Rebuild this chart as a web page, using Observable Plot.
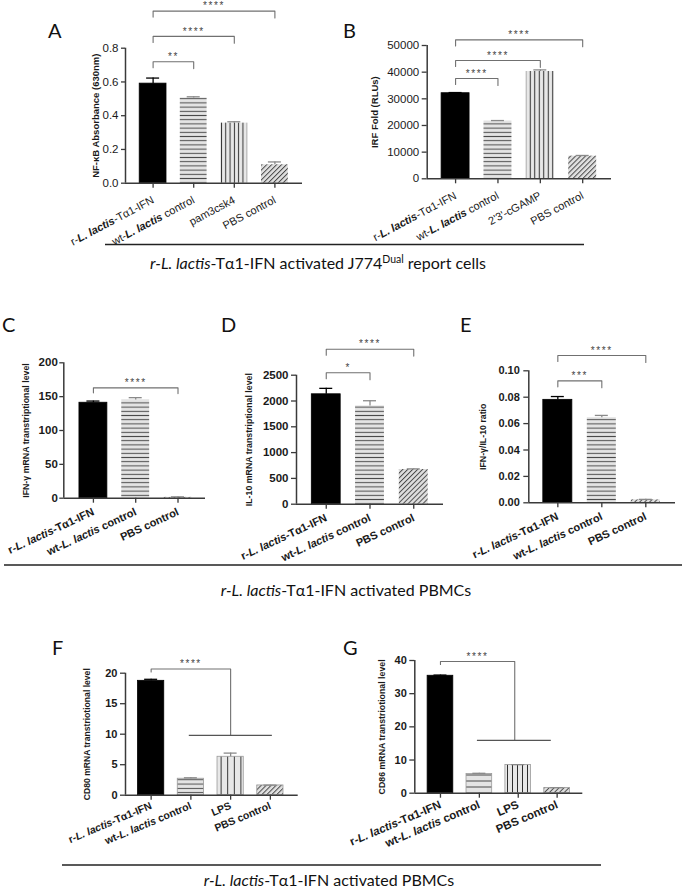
<!DOCTYPE html>
<html><head><meta charset="utf-8">
<script src="https://cdn.jsdelivr.net/npm/d3@7"></script>
<script src="https://cdn.jsdelivr.net/npm/@observablehq/plot@0.6"></script>
<style>
html,body{margin:0;padding:0;background:#fff;}
#fig{position:relative;width:685px;height:888px;overflow:hidden;background:#fff;}
#fig svg{position:absolute;overflow:visible;}
#fig svg.boldY g[aria-label^="y-axis"] text{font-weight:bold;}
</style></head>
<body><div id="fig"></div>
<script>
// ---------------- data ----------------
const catsA = ["r-L. lactis-Tα1-IFN", "wt-L. lactis control", "pam3csk4", "PBS control"];
const meanA = [0.59, 0.505, 0.356, 0.109];
const errA  = [0.033, 0.007, 0.008, 0.017];
const ticksA = [0, 0.2, 0.4, 0.6, 0.8];
const sigA = [[0, 1, 0.72, "**"], [0, 2, 0.87, "****"], [0, 3, 1.02, "****"]];

const catsB = ["r-L. lactis-Tα1-IFN", "wt-L. lactis control", "2'3'-cGAMP", "PBS control"];
const meanB = [32100, 21600, 40250, 8500];
const errB  = [250, 250, 600, 250];
const ticksB = [0, 10000, 20000, 30000, 40000, 50000];
const sigB = [[0, 1, 37600, "****"], [0, 2, 44400, "****"], [0, 3, 52100, "****"]];

const catsC = ["r-L. lactis-Tα1-IFN", "wt-L. lactis control", "PBS control"];
const meanC = [141, 145, 1.2];
const errC  = [2.5, 3.5, 0.8];
const ticksC = [0, 50, 100, 150, 200];
const sigC = [[0, 2, 163, "****"]];

const catsD = ["r-L. lactis-Tα1-IFN", "wt-L. lactis control", "PBS control"];
const meanD = [2130, 1905, 672];
const errD  = [115, 100, 13];
const ticksD = [0, 500, 1000, 1500, 2000, 2500];
const sigD = [[0, 1, 2547, "*"], [0, 2, 3004, "****"]];

const catsE = ["r-L. lactis-Tα1-IFN", "wt-L. lactis control", "PBS control"];
const meanE = [0.078, 0.0645, 0.0022];
const errE  = [0.0025, 0.0017, 0.0004];
const ticksE = [0, 0.02, 0.04, 0.06, 0.08, 0.10];
const sigE = [[0, 1, 0.0924, "***"], [0, 2, 0.1116, "****"]];

const catsF = ["r-L. lactis-Tα1-IFN", "wt-L. lactis control", "LPS", "PBS control"];
const meanF = [18.75, 2.7, 6.3, 1.6];
const errF  = [0.25, 0.15, 0.6, 0.05];
const ticksF = [0, 5, 10, 15, 20];
const groupF = {from: 0, join: 2, top: 20.7, low: 9.8, span: [0.96, 3.05], label: "****"};

const catsG = ["r-L. lactis-Tα1-IFN", "wt-L. lactis control", "LPS", "PBS control"];
const meanG = [35.4, 5.8, 8.5, 1.6];
const errG  = [0.2, 0.2, 0.1, 0.05];
const ticksG = [0, 10, 20, 30, 40];
const groupG = {from: 0, join: 1.91, top: 39.7, low: 15.9, span: [0.95, 2.85], label: "****"};

// ---------------- styles ----------------
const SANS = "'Liberation Sans', Arial, Helvetica, sans-serif";
const CAL = "Lato, 'Open Sans', 'Liberation Sans', sans-serif";
const AX = "#3a3a3a";
const fig = document.getElementById("fig");

function defs(id, hGap, vGap, dGap) {
  return `<defs>
  <pattern id="${id}-h" width="6" height="${hGap}" patternUnits="userSpaceOnUse">
    <rect width="6" height="${hGap}" fill="#e4e4e4"/>
    <line x1="0" x2="6" y1="${hGap/2}" y2="${hGap/2}" stroke="#4a4a4a" stroke-width="1"/></pattern>
  <pattern id="${id}-v" width="${vGap}" height="6" patternUnits="userSpaceOnUse">
    <rect width="${vGap}" height="6" fill="#e8e8e8"/>
    <line y1="0" y2="6" x1="${vGap/2}" x2="${vGap/2}" stroke="#2e2e2e" stroke-width="1"/></pattern>
  <pattern id="${id}-d" width="${dGap}" height="${dGap}" patternUnits="userSpaceOnUse" patternTransform="rotate(45)">
    <rect width="${dGap}" height="${dGap}" fill="#e0e0e0"/>
    <line x1="0.5" x2="0.5" y1="0" y2="${dGap}" stroke="#4a4a4a" stroke-width="1"/></pattern>
  </defs>`;
}

function panel(p) {
  const n = p.cats.length;
  const [sx, sy, sw, sh] = p.box;
  const BW = 0.33;
  const capHalf = 6.5 / p.unit; // px -> x units
  const weight = p.bold ? "bold" : "normal";
  const data = p.cats.map((c, i) => ({
    i, c, v: p.mean[i], e: p.err[i],
    fill: p.pats[i] === "s" ? "#000" : `url(#${p.id}-${p.pats[i]})`,
    stroke: p.pats[i] === "s" ? "#000" : p.outline,
    ec: i === 0 ? "#000" : "#8a8a8a"
  }));
  const pxY = p.yMax / (p.yBase - p.yTop); // data units per px
  const drop = p.drop * pxY;
  const pts = [], labs = [];
  (p.sigs || []).forEach(([a, b, y, lab], k) => {
    pts.push({x: a, y: y - drop, k}, {x: a, y, k}, {x: b, y, k}, {x: b, y: y - drop * 1.15, k});
    labs.push({x: (a + b) / 2, y, lab});
  });
  const grp = [];
  if (p.group) {
    const g = p.group;
    pts.push({x: g.from, y: g.top - 3 * pxY, k: 90}, {x: g.from, y: g.top, k: 90}, {x: g.join, y: g.top, k: 90}, {x: g.join, y: g.low, k: 90});
    grp.push({x1: g.span[0], x2: g.span[1], y: g.low});
    labs.push({x: (g.from + g.join) / 2, y: g.top, lab: g.label});
  }
  const chart = Plot.plot({
    width: sw, height: sh,
    marginLeft: p.ax0 - sx, marginRight: sx + sw - p.ax1,
    marginTop: p.yTop - sy, marginBottom: sy + sh - p.yBase,
    style: {fontFamily: SANS, color: "#1a1a1a", background: "transparent", overflow: "visible"},
    x: {type: "linear", domain: p.xDom},
    y: {type: "linear", domain: [0, p.yMax]},
    color: {type: "identity"},
    marks: [
      Plot.rect(data, {x1: d => d.i - BW, x2: d => d.i + BW, y1: 0, y2: "v", fill: "fill", stroke: "stroke", strokeWidth: 0.8}),
      Plot.ruleX(data, {x: "i", y1: "v", y2: d => d.v + d.e, stroke: "ec", strokeWidth: 1.3}),
      Plot.ruleY(data, {y: d => d.v + d.e, x1: d => d.i - capHalf, x2: d => d.i + capHalf, stroke: "ec", strokeWidth: 1.3}),
      Plot.ruleY([0], {stroke: AX, strokeWidth: 1.5}),
      Plot.ruleX([p.xDom[0]], {y1: 0, y2: p.yMax, stroke: AX, strokeWidth: 1.5}),
      Plot.axisY({ticks: p.yTicks, tickFormat: p.yFmt, tickSize: p.ytSize, tickPadding: p.ytPad, stroke: AX, strokeWidth: 1.3,
        fontSize: p.yFont, fontWeight: weight, label: null}),
      Plot.axisX({ticks: d3.range(n), tickFormat: i => p.cats[i], tickRotate: p.rot, tickSize: 5, tickPadding: p.xtPad, stroke: AX, strokeWidth: 1.3,
        fontSize: p.xFont, fontWeight: weight, label: null}),
      Plot.line(pts, {x: "x", y: "y", z: "k", stroke: "#707070", strokeWidth: 1.1}),
      Plot.ruleY(grp, {x1: "x1", x2: "x2", y: "y", stroke: "#555", strokeWidth: 1.3}),
      Plot.text(labs, {x: "x", y: "y", text: "lab", dy: -5, fontSize: 10, fill: "#444", fontFamily: SANS}),
      Plot.text([p.yLabel], {text: d => d, x: () => p.xDom[0], y: () => p.yMax / 2, rotate: -90, textAnchor: "middle",
        dx: p.yLabDx, fontSize: p.yLabFont, fontWeight: "bold", fill: "#1a1a1a"})
    ]
  });
  chart.style.left = sx + "px";
  chart.style.top = sy + "px";
  if (p.bold) chart.classList.add("boldY");
  chart.insertAdjacentHTML("afterbegin", defs(p.id, p.hGap, p.vGap, p.dGap));
  d3.select(chart).selectAll('g[aria-label="text"] text').filter(function(){ return /^\*+$/.test(this.textContent); })
    .attr("letter-spacing", "1.6px");
  // rich tick labels: italic (and bold) species name
  d3.select(chart).selectAll('g[aria-label^="x-axis"] text').each(function() {
    const t = this.textContent;
    if (t.indexOf("L. lactis") < 0) return;
    const sel = d3.select(this);
    sel.text(null);
    t.split(/(L\. lactis)/).forEach(part => {
      if (!part) return;
      const ts = sel.append("tspan").text(part);
      if (part === "L. lactis") ts.attr("font-style", "italic").attr("font-weight", "bold");
    });
  });
  fig.appendChild(chart);
}

const fmt2 = d => d3.format(".2f")(d);
const fmt1 = d => d3.format(".1f")(d);
const fmtI = d => String(d);

panel({id: "pA", cats: catsA, mean: meanA, err: errA, sigs: sigA, pats: ["s", "h", "v", "d"], outline: "none",
  box: [0, 0, 330, 242], ax0: 125, ax1: 302, yTop: 47.7, yBase: 182.7, xDom: [-0.68, 3.68], unit: 40.6,
  yMax: 0.8, yTicks: ticksA, yFmt: fmt1, ytSize: 4, ytPad: 3, yFont: 11.5, xFont: 11, bold: false, rot: -28, xtPad: 11,
  yLabel: "NF-κB Absorbance (630nm)", yLabDx: -30, yLabFont: 9.5, drop: 6, hGap: 4.2, vGap: 4.3, dGap: 3.5});

panel({id: "pB", cats: catsB, mean: meanB, err: errB, sigs: sigB, pats: ["s", "h", "v", "d"], outline: "none",
  box: [330, 0, 355, 242], ax0: 426.7, ax1: 611, yTop: 45, yBase: 178.3, xDom: [-0.67, 3.68], unit: 42.4,
  yMax: 50000, yTicks: ticksB, yFmt: fmtI, ytSize: 5, ytPad: 3, yFont: 11.5, xFont: 11, bold: false, rot: -28, xtPad: 11,
  yLabel: "IRF Fold (RLUs)", yLabDx: -52, yLabFont: 9.5, drop: 6, hGap: 4.2, vGap: 4.5, dGap: 3.5});

panel({id: "pC", cats: catsC, mean: meanC, err: errC, sigs: sigC, pats: ["s", "h", "d"], outline: "none",
  box: [0, 300, 225, 262], ax0: 63.3, ax1: 205, yTop: 362.3, yBase: 497.7, xDom: [-0.7, 2.65], unit: 42.3,
  yMax: 200, yTicks: ticksC, yFmt: fmtI, ytSize: 4, ytPad: 2, yFont: 11.5, xFont: 11, bold: true, rot: -25, xtPad: 8,
  yLabel: "IFN-γ mRNA transtriptional level", yLabDx: -38, yLabFont: 8.8, drop: 5, hGap: 4.2, vGap: 4.5, dGap: 3.5});

panel({id: "pD", cats: catsD, mean: meanD, err: errD, sigs: sigD, pats: ["s", "h", "d"], outline: "none",
  box: [225, 300, 230, 262], ax0: 296, ax1: 443, yTop: 374.7, yBase: 503.7, xDom: [-0.68, 2.68], unit: 43.8,
  yMax: 2500, yTicks: ticksD, yFmt: fmtI, ytSize: 5, ytPad: 3, yFont: 11.5, xFont: 11, bold: true, rot: -25, xtPad: 8,
  yLabel: "IL-10 mRNA transtriptional level", yLabDx: -47, yLabFont: 8.8, drop: 6, hGap: 4.2, vGap: 4.5, dGap: 3.5});

panel({id: "pE", cats: catsE, mean: meanE, err: errE, sigs: sigE, pats: ["s", "h", "d"], outline: "none",
  box: [455, 300, 230, 262], ax0: 528.3, ax1: 675, yTop: 370.3, yBase: 502.3, xDom: [-0.66, 2.675], unit: 44,
  yMax: 0.10, yTicks: ticksE, yFmt: fmt2, ytSize: 5, ytPad: 4, yFont: 11, xFont: 11, bold: true, rot: -25, xtPad: 8,
  yLabel: "IFN-γ/IL-10 ratio", yLabDx: -46, yLabFont: 8.8, drop: 6, hGap: 4.2, vGap: 4.5, dGap: 3.5});

panel({id: "pF", cats: catsF, mean: meanF, err: errF, group: groupF, pats: ["s", "h", "v", "d"], outline: "#9a9a9a",
  box: [0, 640, 330, 222], ax0: 125, ax1: 297.7, yTop: 672.7, yBase: 794.7, xDom: [-0.645, 3.7], unit: 39.8,
  yMax: 20, yTicks: ticksF, yFmt: fmtI, ytSize: 5, ytPad: 3, yFont: 11, xFont: 10.5, bold: true, rot: -23, xtPad: 5,
  yLabel: "CD80 mRNA transtriotional level", yLabDx: -38, yLabFont: 8.6, drop: 4, hGap: 4.3, vGap: 6.6, dGap: 3.5});

panel({id: "pG", cats: catsG, mean: meanG, err: errG, group: groupG, pats: ["s", "h", "v", "d"], outline: "#9a9a9a",
  box: [330, 640, 355, 222], ax0: 414.3, ax1: 582.3, yTop: 660, yBase: 792.7, xDom: [-0.66, 3.66], unit: 38.9,
  yMax: 40, yTicks: ticksG, yFmt: fmtI, ytSize: 5, ytPad: 3, yFont: 11, xFont: 11.5, bold: true, rot: -23, xtPad: 6,
  yLabel: "CD86 mRNA transtriotional level", yLabDx: -33, yLabFont: 8.8, drop: 4, hGap: 6, vGap: 5, dGap: 3.5});

// ---------------- overlay: panel letters, separators, captions ----------------
const ov = d3.select(fig).append("svg").attr("width", 685).attr("height", 888).style("left", "0px").style("top", "0px");
const letters = [["A", 48, 38], ["B", 343, 38], ["C", 2, 332], ["D", 221, 332], ["E", 460, 332], ["F", 52, 655], ["G", 343, 655]];
ov.selectAll("text.l").data(letters).join("text").attr("class", "l")
  .attr("x", d => d[1]).attr("y", d => d[2]).text(d => d[0])
  .attr("font-family", CAL).attr("font-size", 20).attr("fill", "#111");
const seps = [[105, 584, 244.5], [4, 682, 565], [62, 601, 865]];
ov.selectAll("line.s").data(seps).join("line").attr("class", "s")
  .attr("x1", d => d[0]).attr("x2", d => d[1]).attr("y1", d => d[2]).attr("y2", d => d[2])
  .attr("stroke", "#222").attr("stroke-width", 1.6);
function caption(cx, y, tail, sup, tail2) {
  const t = ov.append("text").attr("x", cx).attr("y", y).attr("text-anchor", "middle")
    .attr("font-family", CAL).attr("font-size", 16).attr("fill", "#111");
  t.append("tspan").attr("font-style", "italic").text("r-L. lactis");
  t.append("tspan").text(tail);
  if (sup) {
    t.append("tspan").attr("font-size", 10.5).attr("dy", -6.5).text(sup);
    t.append("tspan").attr("dy", 6.5).text(tail2);
  }
}
caption(318, 269, "-Tα1-IFN activated J774", "Dual", " report cells");
caption(346, 596, "-Tα1-IFN activated PBMCs");
caption(329, 886, "-Tα1-IFN activated PBMCs");
</script>
</body></html>
